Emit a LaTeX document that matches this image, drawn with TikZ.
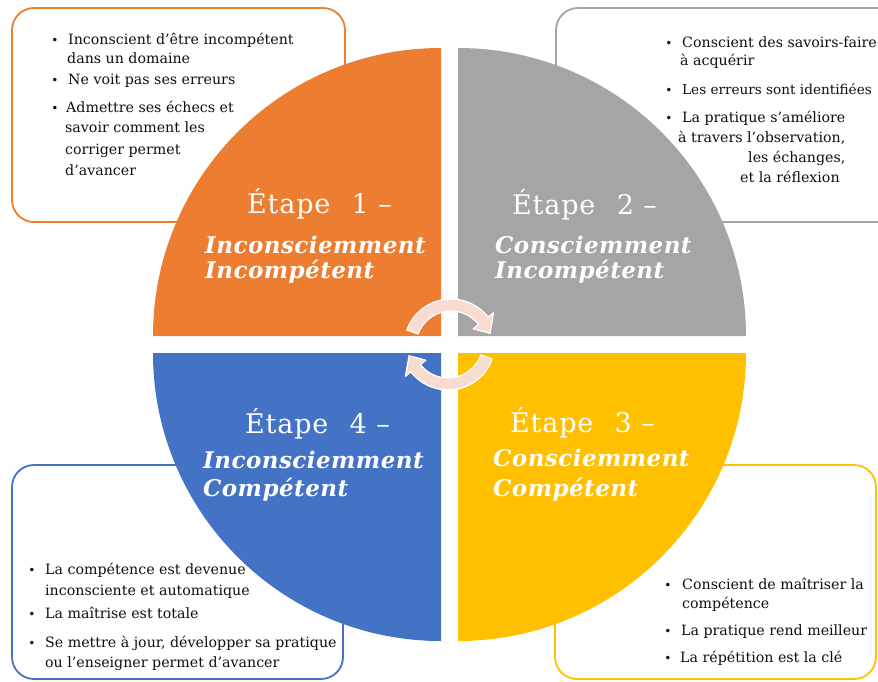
\documentclass[tikz,border=0pt]{standalone}
\usepackage{fontspec}
\setmainfont{DejaVu Serif}
\newfontfamily\titlefont[LetterSpace=3]{DejaVu Serif}
\newfontfamily\subfont[LetterSpace=2]{DejaVu Serif}
\definecolor{orng}{HTML}{ED7D31}
\definecolor{gry}{HTML}{A5A5A5}
\definecolor{blu}{HTML}{4472C4}
\definecolor{ylw}{HTML}{FFC000}
\definecolor{pinkarrow}{RGB}{248,220,210}
\definecolor{bodytext}{RGB}{15,15,15}
\begin{document}
\begin{tikzpicture}[x=1pt,y=-1pt,
  box/.style={line width=1.8pt, rounded corners=22pt, fill=white},
  body/.style={font=\fontsize{14.2}{17}\selectfont, anchor=base west, inner sep=0pt, text=bodytext},
  bul/.style={font=\fontsize{12}{14}\selectfont, anchor=base, inner sep=0pt, text=bodytext},
  ttl/.style={font=\titlefont\fontsize{27}{32}\selectfont, text=white, anchor=base west, inner sep=0pt},
  sub/.style={font=\subfont\bfseries\itshape\fontsize{23}{28}\selectfont, text=white, anchor=base west, inner sep=0pt},
  arw/.style={fill=pinkarrow, draw=white, line width=1.2pt, line join=round}]
\useasboundingbox (0,0) rectangle (878,681);
\fill[white] (0,0) rectangle (878,681);

% text boxes
\draw[box, draw=orng] (12,8) rectangle (345,222);
\draw[box, draw=gry] (556,8) rectangle (900,222);
\draw[box, draw=blu] (12,465) rectangle (343,679);
\draw[box, draw=ylw] (555,465) rectangle (876,679);

% quadrants
\fill[orng] (441,336) -- (153,336) arc[start angle=180, end angle=270, radius=288] -- cycle;
\fill[gry] (458,336) -- (458,48) arc[start angle=270, end angle=360, radius=288] -- cycle;
\fill[ylw] (458,353) -- (746,353) arc[start angle=0, end angle=90, radius=288] -- cycle;
\fill[blu] (441,353) -- (441,641) arc[start angle=90, end angle=180, radius=288] -- cycle;

% titles
\node[ttl] (t1) at (247,213) {Étape \hspace{12pt}1 –};
\node[sub] (t1a) at (205,253) {Inconsciemment};
\node[sub] (t1b) at (205,278) {Incompétent};
\node[ttl] (t2) at (512,214) {Étape \hspace{12pt}2 –};
\node[sub] (t2a) at (495,253) {Consciemment};
\node[sub] (t2b) at (495,278) {Incompétent};
\node[ttl] (t3) at (510,432) {Étape \hspace{12pt}3 –};
\node[sub] (t3a) at (493,466) {Consciemment};
\node[sub] (t3b) at (493,496) {Compétent};
\node[ttl] (t4) at (245,433) {Étape \hspace{12pt}4 –};
\node[sub] (t4a) at (203,468) {Inconsciemment};
\node[sub] (t4b) at (203,496) {Compétent};

% cycle arrows
\begin{scope}[shift={(451,346)}]
\filldraw[arw] (200:47) arc[start angle=200, end angle=322, radius=47]
  -- (322:54) -- (342:41) -- (322:28) -- (322:35)
  arc[start angle=322, end angle=200, radius=35] -- cycle;
\end{scope}
\begin{scope}[shift={(448,343)}]
\filldraw[arw] (20:47) arc[start angle=20, end angle=142, radius=47]
  -- (142:54) -- (162:41) -- (142:28) -- (142:35)
  arc[start angle=142, end angle=20, radius=35] -- cycle;
\end{scope}

% top-left box text
\node[bul] (b11) at (55,44) {•};
\node[body] (l11) at (68,44) {Inconscient d'être incompétent};
\node[body] (l12) at (67,63) {dans un domaine};
\node[bul] (b12) at (55,84) {•};
\node[body] (l13) at (68,84) {Ne voit pas ses erreurs};
\node[bul] (b13) at (55,112) {•};
\node[body] (l14) at (66,112) {Admettre ses échecs et};
\node[body] (l15) at (65,132) {savoir comment les};
\node[body] (l16) at (65,154) {corriger permet};
\node[body] (l17) at (65,175) {d'avancer};

% top-right box text
\node[bul] (b21) at (669,47) {•};
\node[body] (l21) at (682,47) {Conscient des savoirs-faire};
\node[body] (l22) at (680,65) {à acquérir};
\node[bul] (b22) at (669,94) {•};
\node[body, font=\fontsize{13.6}{17}\selectfont] (l23) at (682,94) {Les erreurs sont identifiées};
\node[bul] (b23) at (669,122) {•};
\node[body] (l24) at (682,122) {La pratique s'améliore};
\node[body] (l25) at (678,142) {à travers l'observation,};
\node[body] (l26) at (748,162) {les échanges,};
\node[body] (l27) at (740,182) {et la réflexion};

% bottom-left box text
\node[bul] (b41) at (32,574) {•};
\node[body] (l41) at (45,574) {La compétence est devenue};
\node[body] (l42) at (45,595) {inconsciente et automatique};
\node[bul] (b42) at (32,618) {•};
\node[body] (l43) at (45,618) {La maîtrise est totale};
\node[bul] (b43) at (32,647) {•};
\node[body] (l44) at (45,647) {Se mettre à jour, développer sa pratique};
\node[body] (l45) at (45,667) {ou l'enseigner permet d'avancer};

% bottom-right box text
\node[bul] (b31) at (668,589) {•};
\node[body] (l31) at (682,589) {Conscient de maîtriser la};
\node[body] (l32) at (682,608) {compétence};
\node[bul] (b32) at (668,635) {•};
\node[body] (l33) at (681,635) {La pratique rend meilleur};
\node[bul] (b33) at (668,662) {•};
\node[body] (l34) at (680,662) {La répétition est la clé};
\end{tikzpicture}
\end{document}
